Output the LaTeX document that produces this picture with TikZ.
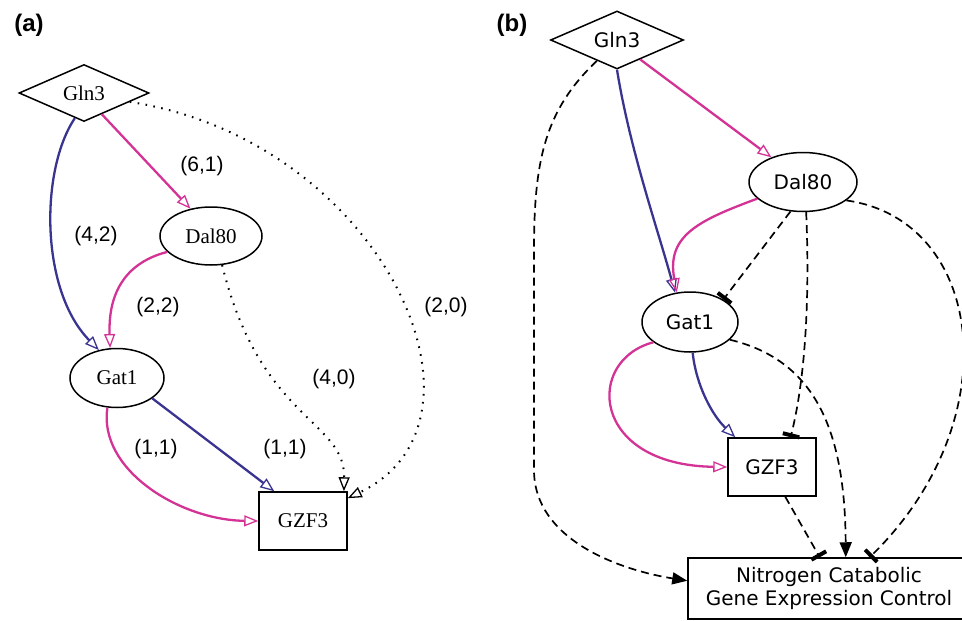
\documentclass[tikz,border=0pt]{standalone}
\usepackage{fontspec}
\setmainfont{Liberation Sans}
\newfontfamily\serifa{Liberation Serif}
\newfontfamily\sansb{DejaVu Sans}
\usetikzlibrary{shapes.geometric,arrows.meta,calc}
\definecolor{epink}{RGB}{212,51,150}
\definecolor{eblue}{RGB}{58,52,145}
\tikzset{
  nodeline/.style={draw=black,line width=1.5pt,inner sep=0pt},
  dia/.style={nodeline,diamond,aspect=2.2},
  ell/.style={nodeline,ellipse},
  boxn/.style={nodeline,rectangle},
  fa/.style={font=\serifa\fontsize{21}{24}\selectfont},
  fb/.style={font=\sansb\fontsize{20}{23}\selectfont},
  lab/.style={font=\fontsize{21}{24}\selectfont},
  panel/.style={font=\bfseries\fontsize{24}{28}\selectfont},
  openhead/.style={-{Triangle[open,length=14pt,width=11pt,line width=1.3pt]}},
  pinkedge/.style={draw=epink,line width=2.3pt,openhead},
  blueedge/.style={draw=eblue,line width=2.3pt,openhead},
  dotedge/.style={draw=black,line width=2pt,dash pattern=on 1.6pt off 6.4pt,openhead},
  dashline/.style={draw=black,line width=1.7pt,dash pattern=on 8pt off 5pt},
  barend/.style={dashline,-{Bar[width=17pt,line width=4pt]}},
  fillend/.style={dashline,-{Triangle[length=15pt,width=12pt]}},
}
\begin{document}
\begin{tikzpicture}[x=1pt,y=-1pt]
\useasboundingbox (0,0) rectangle (962,621);
% ---------- panel (a)
\node[panel] (pa) at (29,25) {(a)};
\node[dia,fa,minimum width=130pt,minimum height=57pt] (gln3a) at (84,93) {Gln3};
\node[ell,fa,minimum width=102pt,minimum height=58pt] (dal80a) at (211,236) {Dal80};
\node[ell,fa,minimum width=94pt,minimum height=59pt] (gat1a) at (117,378) {Gat1};
\node[boxn,fa,minimum width=88pt,minimum height=58pt] (gzf3a) at (303,521) {GZF3};

\draw[blueedge] (gln3a.-110) .. controls (40,170) and (40,290) .. (gat1a.123);
\draw[pinkedge] (gln3a.-50) -- (dal80a.127);
\draw[pinkedge] (dal80a.200) .. controls (128,262) and (108,290) .. (gat1a.103);
\draw[blueedge] (gat1a.-30) -- (gzf3a.134);
\draw[pinkedge] (gat1a.-108) .. controls (98,470) and (180,520) .. (gzf3a.west);
\draw[dotedge] (dal80a.-69) .. controls (260,420) and (345,420) .. (gzf3a.36);
\draw[dotedge] (gln3a.-11) .. controls (380,140) and (510,420) .. (gzf3a.27);

\node[lab] (l61) at (202,166) {(6,1)};
\node[lab] (l42) at (96,236) {(4,2)};
\node[lab] (l22) at (158,307) {(2,2)};
\node[lab] (l20) at (446,307) {(2,0)};
\node[lab] (l40) at (334,379) {(4,0)};
\node[lab] (l11a) at (156,449) {(1,1)};
\node[lab] (l11b) at (285,449) {(1,1)};

% ---------- panel (b)
\node[panel] (pb) at (512,25) {(b)};
\node[dia,fb,minimum width=133pt,minimum height=58pt] (gln3b) at (617,40) {Gln3};
\node[ell,fb,minimum width=108pt,minimum height=59pt] (dal80b) at (803,182) {Dal80};
\node[ell,fb,minimum width=96pt,minimum height=60pt] (gat1b) at (690,322) {Gat1};
\node[boxn,fb,minimum width=88pt,minimum height=58pt] (gzf3b) at (772,467) {GZF3};
\node[boxn,fb,minimum width=294pt,minimum height=61pt,align=center] (ncgec) at (835,588.5) {\hspace*{-12pt}Nitrogen Catabolic\\\hspace*{-12pt}Gene Expression Control};

\draw[blueedge] (gln3b.south) .. controls (630,150) and (658,230) .. (gat1b.117);
\draw[pinkedge] (gln3b.-40) -- (dal80b.142);
\draw[pinkedge] (dal80b.200) .. controls (700,220) and (666,235) .. (gat1b.114);
\draw[barend] (dal80b.-113) -- (gat1b.34);
\draw[barend] (dal80b.-84) .. controls (810,300) and (805,380) .. (gzf3b.58);
\draw[barend] (dal80b.-23) .. controls (985,220) and (1010,420) .. (ncgec.42);
\draw[blueedge] (gat1b.-85) .. controls (696,385) and (712,415) .. (gzf3b.141);
\draw[pinkedge] (gat1b.209) .. controls (585,360) and (590,465) .. (gzf3b.west);
\draw[fillend] (gat1b.-24) .. controls (815,360) and (845,430) .. (ncgec.71);
\draw[barend] (gzf3b.-66) -- (ncgec.116);
\draw[fillend] (gln3b.-134) .. controls (545,110) and (534,160) .. (534,250)
   -- (534,470) .. controls (534,540) and (620,570) .. (ncgec.177);
\end{tikzpicture}
\end{document}
